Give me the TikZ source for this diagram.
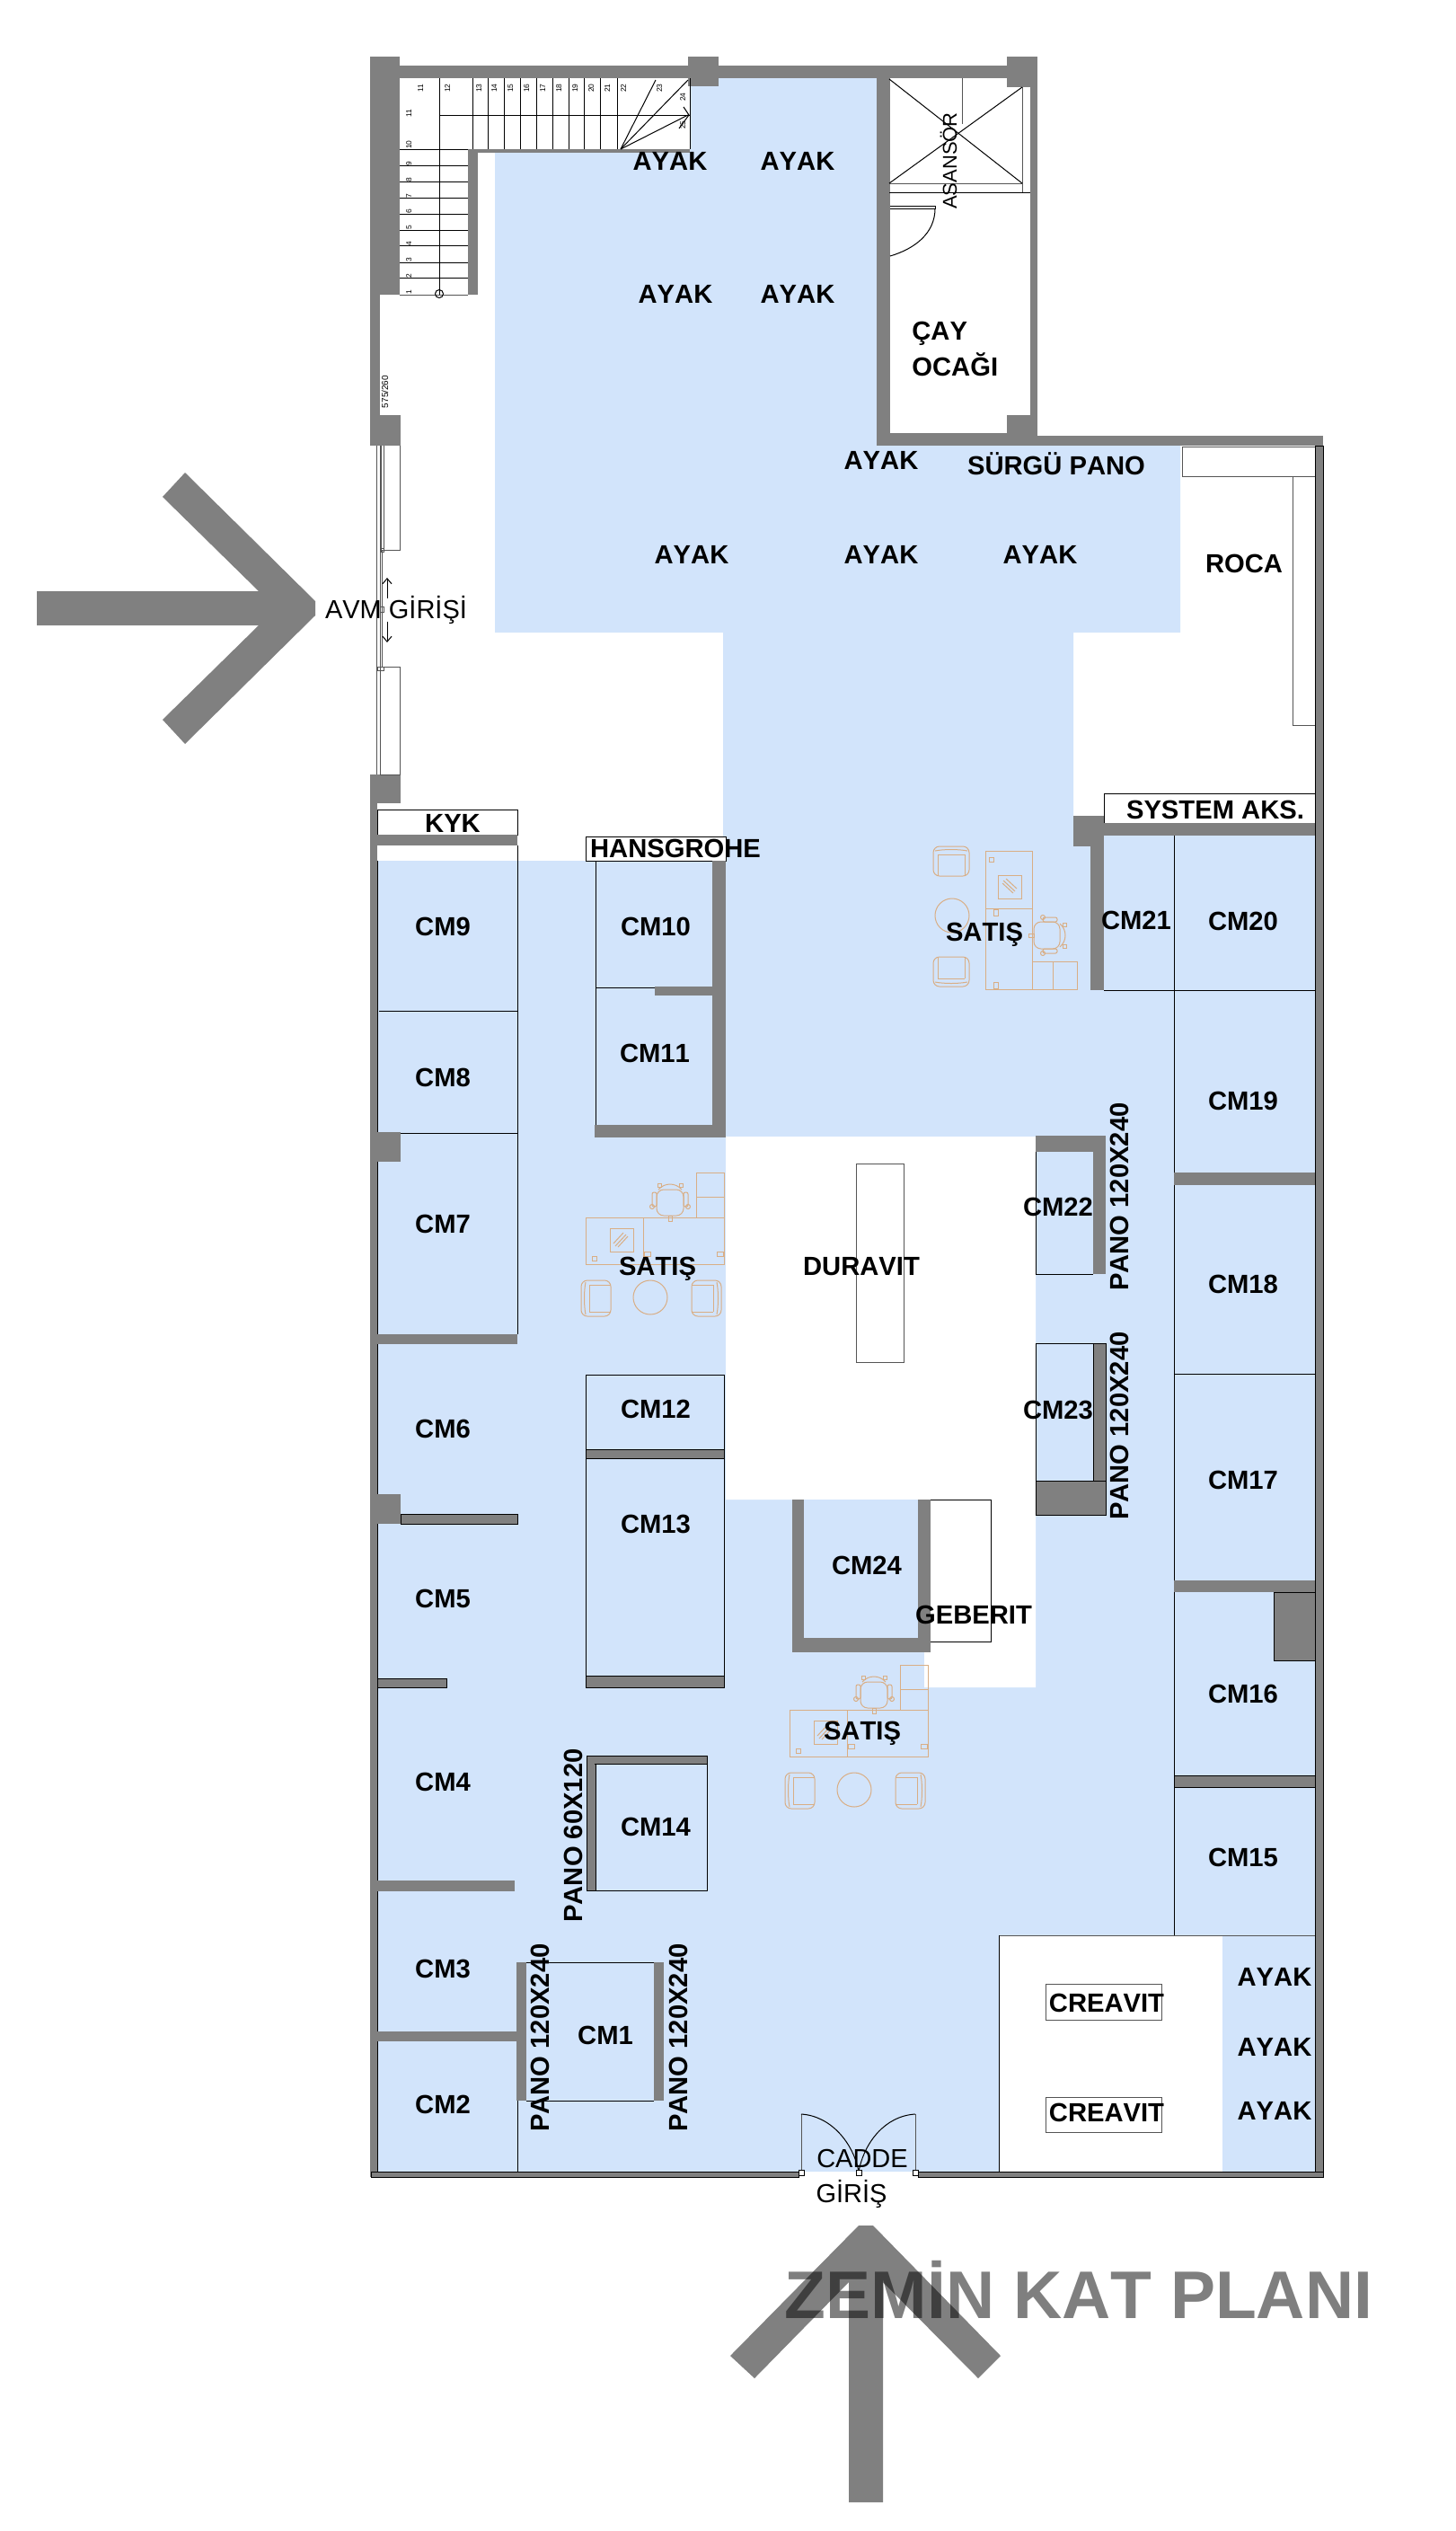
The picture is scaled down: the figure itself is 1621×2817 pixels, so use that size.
\documentclass[tikz,border=0pt]{standalone}
\usepackage{fontspec}
\usetikzlibrary{arrows.meta}
\setmainfont[Kerning=Off]{Liberation Sans}
\definecolor{floorblue}{HTML}{D2E4FB}
\definecolor{wallgray}{HTML}{808080}
\definecolor{furn}{HTML}{D9AE85}
\definecolor{thin}{HTML}{555555}
\newcommand\Wall[4]{\fill[wallgray] (#1,#2) rectangle (#3,#4);}
\newcommand\WallB[4]{\filldraw[wallgray,draw=black,line width=.4pt] (#1,#2) rectangle (#3,#4);}
\newcommand\ArmChair{%
  \draw[rounded corners=3.5pt] (-5,70) rectangle (28,110);
  \draw (0,72) .. controls (-2,82) and (-2,98) .. (0,108);
  \draw (4,75) -- (4,105);
  \draw (4,75) -- (28,75);
  \draw (4,105) -- (28,105);
}
\newcommand\DeskSet{%
  \draw (0,0) rectangle (154,52);
  \draw (64,0) -- (64,52);
  \draw (123,-50) rectangle (154,0);
  \draw (123,-23) -- (154,-23);
  \draw (27,12) rectangle (53,38);
  \draw (33,32) -- (45,19);
  \draw (36,33) -- (47,21);
  \draw (31,29) -- (42,17);
  \draw (7,43) rectangle (12,48);
  \draw (65,38) rectangle (72,43);
  \draw (146,38) rectangle (153,43);
  \draw[rounded corners=4pt] (79,-31) rectangle (109,-2);
  \draw (81,-31) .. controls (88,-39) and (100,-39) .. (107,-31);
  \draw[rounded corners=1pt] (74,-28) rectangle (79,-12);
  \draw[rounded corners=1pt] (109,-28) rectangle (114,-12);
  \draw (80,-38) rectangle (84,-34);
  \draw (104,-38) rectangle (108,-34);
  \draw (74,-12) circle[radius=2.5];
  \draw (114,-12) circle[radius=2.5];
  \draw (92,-2) rectangle (96,4);
  \draw (72,89) circle[radius=19];
  \ArmChair
  \begin{scope}[shift={(146,0)},xscale=-1]\ArmChair\end{scope}
}
\tikzset{
  lab/.style={anchor=base,inner sep=0pt,font=\fontsize{14.6}{15}\selectfont\bfseries,text=black},
  reg/.style={anchor=base,inner sep=0pt,font=\fontsize{14.5}{15}\selectfont,text=black},
  tiny/.style={anchor=base,inner sep=0pt,font=\fontsize{4.2}{5}\selectfont,text=black,rotate=90},
  ln/.style={draw=black,line width=.5pt},
  gl/.style={draw=thin,line width=.5pt},
  fn/.style={draw=furn,line width=.5pt},
}
\begin{document}
\begin{tikzpicture}[x=0.5pt,y=-0.5pt]
\useasboundingbox (0,0) rectangle (1621,2817);
% floor
\fill[floorblue] (551,170) -- (768,170) -- (768,96) -- (800,96) -- (800,87) -- (976,87) -- (976,496)
  -- (1314,496) -- (1314,704) -- (1195,704) -- (1195,930) -- (1464,930) -- (1464,2417) -- (420,2417)
  -- (420,958) -- (805,958) -- (805,704) -- (551,704) -- cycle;
\fill[white] (808,1265) -- (1153,1265) -- (1153,1878) -- (1029,1878) -- (1029,1839) -- (882,1839) -- (882,1669) -- (808,1669) -- cycle;
\fill[floorblue] (895,1669) rectangle (1022,1823);
\fill[white] (1112,2154) rectangle (1361,2417);
\draw[gl] (1112,2154) -- (1464,2154);
\draw[ln] (1112,2154) -- (1112,2417);
% outer walls top
\Wall{412}{63}{445}{328}
\Wall{412}{328}{423}{462}
\Wall{412}{462}{446}{496}
\Wall{445}{73}{1154}{87}
\Wall{766}{63}{800}{96}
\Wall{1121}{63}{1155}{97}
\Wall{976}{87}{991}{496}
\Wall{1147}{97}{1155}{485}
\Wall{1121}{462}{1155}{482}
\Wall{976}{482}{1155}{496}
\Wall{1155}{485}{1473}{496}
\Wall{521}{166}{532}{328}
\Wall{521}{166}{768}{170}
% stairs
\draw[ln] (489,87) -- (489,328);
\foreach \x in {526,543,561,579,597,615,633,650,668,687}{\draw[ln] (\x,87) -- (\x,166);}
\draw[ln] (489,128) -- (768,128);
\draw[ln] (768,87) -- (768,166);
\draw[ln] (691,166) -- (730,89);
\draw[ln] (691,166) -- (766,89);
\draw[ln] (691,166) -- (766,128);
\draw[ln] (761,119) -- (767,128) -- (756,143);
\foreach \y in {166,184,202,220,238,256,273,292,309}{\draw[ln] (445,\y) -- (521,\y);}
\draw[gl] (445,328) -- (521,328);
\draw[ln] (489,327) circle[radius=4.5];
\foreach \n/\y in {1/325,2/307,3/289,4/271,5/253,6/235,7/218,8/200,9/182,10/161,11/126}{\node[tiny] at (458,\y) {\n};}
\foreach \n/\x in {11/471,12/501,13/536,14/553,15/571,16/589,17/607,18/625,19/643,20/661,21/679,22/697,23/737}{\node[tiny] at (\x,98) {\n};}
\node[tiny] (s24) at (763,108) {24};
\node[tiny] (s25) at (763,139) {25};
% elevator
\draw[gl] (990,204) -- (1138,204);
\draw[ln] (990,214) -- (1147,214);
\draw[gl] (1138,97) -- (1138,214);
\draw[ln] (990,88) -- (1138,204);
\draw[ln] (990,204) -- (1138,97);
\draw[gl] (1071,87) -- (1071,138);
\draw[ln] (991,229) -- (1041,229) -- (1041,232) -- (991,232);
\draw[ln] (1041,232) .. controls (1041,260) and (1018,277) .. (991,285);
% AVM entrance
\Wall{412}{862}{446}{894}
\Wall{412}{894}{420}{941}
\draw[gl] (419,496) -- (419,862);
\draw[gl] (423,496) -- (423,862);
\draw[gl] (425,612) -- (425,742);
\draw[gl] (427,496) -- (427,612);
\draw[gl] (424,496) -- (424,612) -- (445,612) -- (445,496);
\draw[gl] (423,742) rectangle (445,862);
\draw[gl] (424,610) rectangle (427,614);
\draw[gl] (423,675) rectangle (427,681);
\draw[gl] (420,742) rectangle (427,746);
\draw[ln,-{Straight Barb[length=3pt,width=5pt]}] (431,666) -- (431,643);
\draw[ln,-{Straight Barb[length=3pt,width=5pt]}] (431,692) -- (431,715);
% left block
\filldraw[fill=white,draw=black,line width=.5pt] (420,901) rectangle (576,929);
\Wall{412}{929}{576}{941}
\Wall{412}{894}{420}{2423}
\draw[ln] (420,958) -- (420,2417);
\draw[ln] (576,941) -- (576,1485);
\draw[ln] (422,1125) -- (576,1125);
\draw[ln] (446,1261) -- (576,1261);
\Wall{412}{1260}{446}{1293}
\Wall{420}{1485}{576}{1496}
\Wall{412}{1663}{446}{1696}
\WallB{446}{1685}{576}{1696}
\WallB{420}{1868}{497}{1878}
\Wall{420}{2093}{573}{2105}
\Wall{420}{2261}{575}{2272}
\Wall{575}{2184}{586}{2338}
\Wall{728}{2184}{739}{2338}
\draw[ln] (586,2184) -- (728,2184);
\draw[ln] (586,2338) -- (728,2338);
\draw[ln] (576,2338) -- (576,2417);
% CM10/11
\filldraw[fill=white,draw=black,line width=.5pt] (652,931) rectangle (808,958);
\draw[ln] (663,958) -- (663,1252);
\draw[ln] (663,1099) -- (729,1099);
\Wall{729}{1098}{793}{1108}
\Wall{793}{958}{808}{1266}
\Wall{662}{1252}{808}{1266}
% CM12/13
\draw[ln] (652,1530) rectangle (806,1878);
\WallB{652}{1613}{806}{1623}
\WallB{652}{1865}{806}{1878}
% CM14
\draw[ln] (663,1963) -- (787,1963) -- (787,2104) -- (663,2104);
\WallB{653}{1954}{663}{2104}
\WallB{653}{1954}{787}{1963}
\Wall{654}{1955}{662}{1964}
% CM24 and Geberit
\Wall{882}{1669}{895}{1839}
\Wall{1022}{1669}{1036}{1839}
\Wall{882}{1823}{1036}{1839}
\draw[ln] (1036,1669) -- (1103,1669) -- (1103,1827) -- (1036,1827);
% Duravit
\draw[gl] (953,1295) rectangle (1006,1516);
% CM22/23
\draw[ln] (1153,1282) -- (1153,1418) -- (1217,1418);
\Wall{1153}{1264}{1231}{1282}
\Wall{1217}{1264}{1231}{1418}
\draw[ln] (1217,1495) -- (1153,1495) -- (1153,1648);
\WallB{1217}{1495}{1231}{1648}
\WallB{1153}{1648}{1231}{1686}
% right block
\filldraw[fill=white,gl] (1316,497) rectangle (1464,530);
\filldraw[fill=white,gl] (1439,530) rectangle (1464,807);
\filldraw[fill=white,draw=black,line width=.5pt] (1229,883) rectangle (1464,916);
\Wall{1195}{908}{1229}{930}
\Wall{1229}{916}{1464}{930}
\Wall{1195}{930}{1214}{942}
\Wall{1214}{930}{1229}{1102}
\draw[ln] (1229,1102) -- (1464,1102);
\draw[ln] (1307,930) -- (1307,2154);
\Wall{1307}{1305}{1464}{1319}
\draw[ln] (1307,1529) -- (1464,1529);
\Wall{1307}{1759}{1464}{1772}
\WallB{1418}{1772}{1464}{1848}
\WallB{1307}{1976}{1464}{1989}
\filldraw[wallgray,draw=black,line width=.4pt] (1464,496) rectangle (1473,2423);
% bottom wall & doors
\filldraw[wallgray,draw=black,line width=.4pt] (413,2417) rectangle (889,2423);
\filldraw[wallgray,draw=black,line width=.4pt] (1022,2417) rectangle (1473,2423);
\draw[gl] (892,2353) -- (892,2417);
\draw[gl] (1019,2353) -- (1019,2417);
\draw[ln] (892,2353) .. controls (925,2355) and (950,2385) .. (956,2417);
\draw[ln] (1019,2353) .. controls (985,2355) and (962,2385) .. (956,2417);
\draw[ln,fill=white] (889,2415) rectangle (895,2421);
\draw[ln,fill=white] (953,2415) rectangle (959,2421);
\draw[ln,fill=white] (1016,2415) rectangle (1022,2421);
% Creavit boxes
\filldraw[fill=white,gl] (1164,2208) rectangle (1293,2248);
\filldraw[fill=white,gl] (1164,2334) rectangle (1293,2373);
% furniture
\begin{scope}[fn]
\begin{scope}[shift={(879,1903)},every path/.style={fn}]\DeskSet\end{scope}
\begin{scope}[shift={(652,1355)},every path/.style={fn}]\DeskSet\end{scope}
\begin{scope}[shift={(1149,947)},rotate=-90,every path/.style={fn}]\DeskSet\end{scope}
\end{scope}
% arrows
\fill[wallgray] (956,2477) -- (972,2477) -- (1114,2622) -- (1089,2647) -- (983,2540) -- (983,2785) -- (945,2785) -- (945,2540) -- (840,2647) -- (813,2622) -- cycle;
\fill[wallgray] (351,669) -- (351,685) -- (206,828) -- (181,801) -- (288,696) -- (41,696) -- (41,658) -- (288,658) -- (181,553) -- (206,526) -- cycle;
% labels
\node[lab] (ay1) at (746,189) {AYAK};
\node[lab] (ay2) at (888,189) {AYAK};
\node[lab] (ay3) at (752,337) {AYAK};
\node[lab] (ay4) at (888,337) {AYAK};
\node[lab] (ay5) at (981,522) {AYAK};
\node[lab] (srg) at (1176,528) {SÜRGÜ PANO};
\node[lab] (ay6) at (770,627) {AYAK};
\node[lab] (ay7) at (981,627) {AYAK};
\node[lab] (ay8) at (1158,627) {AYAK};
\node[lab] (roca) at (1385,637) {ROCA};
\node[lab,anchor=base west] (cay) at (1015,378) {ÇAY};
\node[lab,anchor=base west] (ocg) at (1015,418) {OCAĞI};
\node[anchor=base,inner sep=0pt,font=\fontsize{11}{12}\selectfont,rotate=90] (asn) at (1065,179) {ASANSÖR};
\node[anchor=base,inner sep=0pt,font=\fontsize{5}{6}\selectfont,rotate=90] (dim) at (432,436) {575/260};
\node[reg] (avm) at (441,688) {AVM GİRİŞİ};
\node[lab] (kyk) at (504,926) {KYK};
\node[lab] (hg) at (752,954) {HANSGROHE};
\node[lab] (sys) at (1353,911) {SYSTEM AKS.};
\node[lab] (s1) at (1096,1047) {SATIŞ};
\node[lab] (s2) at (732,1419) {SATIŞ};
\node[lab] (s3) at (960,1936) {SATIŞ};
\node[lab] (dur) at (959,1419) {DURAVIT};
\node[lab] (geb) at (1084,1807) {GEBERIT};
\node[lab] (cm1) at (674,2275) {CM1};
\node[lab] (cm2) at (493,2352) {CM2};
\node[lab] (cm3) at (493,2201) {CM3};
\node[lab] (cm4) at (493,1993) {CM4};
\node[lab] (cm5) at (493,1789) {CM5};
\node[lab] (cm6) at (493,1600) {CM6};
\node[lab] (cm7) at (493,1372) {CM7};
\node[lab] (cm8) at (493,1209) {CM8};
\node[lab] (cm9) at (493,1041) {CM9};
\node[lab] (cm10) at (730,1041) {CM10};
\node[lab] (cm11) at (729,1182) {CM11};
\node[lab] (cm12) at (730,1578) {CM12};
\node[lab] (cm13) at (730,1706) {CM13};
\node[lab] (cm14) at (730,2043) {CM14};
\node[lab] (cm15) at (1384,2077) {CM15};
\node[lab] (cm16) at (1384,1895) {CM16};
\node[lab] (cm17) at (1384,1657) {CM17};
\node[lab] (cm18) at (1384,1439) {CM18};
\node[lab] (cm19) at (1384,1235) {CM19};
\node[lab] (cm20) at (1384,1035) {CM20};
\node[lab] (cm21) at (1265,1034) {CM21};
\node[lab] (cm22) at (1178,1353) {CM22};
\node[lab] (cm23) at (1178,1579) {CM23};
\node[lab] (cm24) at (965,1752) {CM24};
\node[lab,rotate=90] (p1) at (648,2043) {PANO 60X120};
\node[lab,rotate=90] (p2) at (611,2268) {PANO 120X240};
\node[lab,rotate=90] (p3) at (765,2268) {PANO 120X240};
\node[lab,rotate=90] (p4) at (1256,1332) {PANO 120X240};
\node[lab,rotate=90] (p5) at (1256,1587) {PANO 120X240};
\node[lab] (cr1) at (1232,2239) {CREAVIT};
\node[lab] (cr2) at (1232,2361) {CREAVIT};
\node[lab] (ay9) at (1419,2210) {AYAK};
\node[lab] (ay10) at (1419,2288) {AYAK};
\node[lab] (ay11) at (1419,2359) {AYAK};
\node[reg] (cad) at (960,2412) {CADDE};
\node[reg] (gir) at (948,2451) {GİRİŞ};
\node[anchor=base,inner sep=0pt,font=\fontsize{37.5}{40}\selectfont\bfseries,text=black,text opacity=.5] (title) at (1201,2580) {ZEMİN KAT PLANI};
\end{tikzpicture}
\end{document}
